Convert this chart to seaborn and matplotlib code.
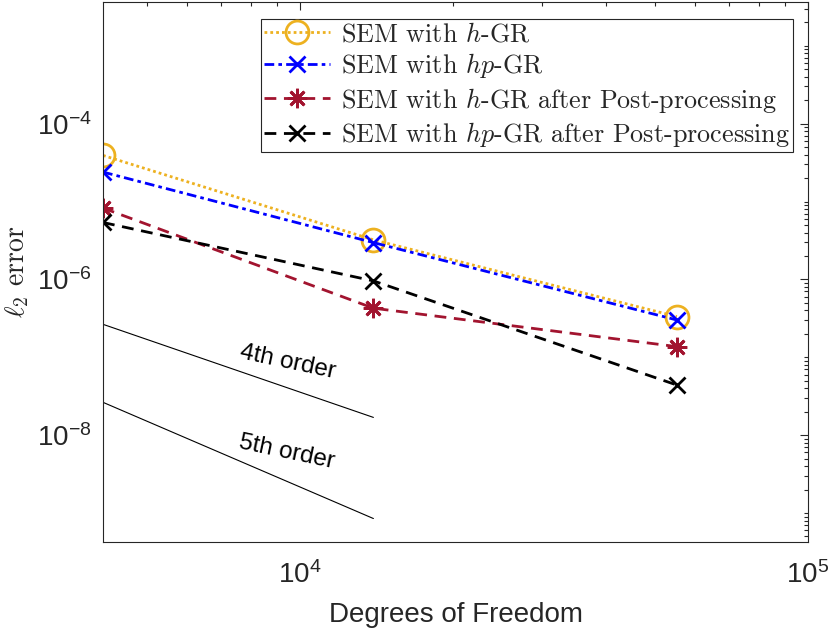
import numpy as np
import pandas as pd
import matplotlib
matplotlib.use("Agg")
import matplotlib.pyplot as plt
import matplotlib.ticker as mticker
import seaborn as sns

# ---------------- data ----------------
dof = [4096, 13950, 55200]
err_h = [3.91e-5, 3.22e-6, 3.33e-7]
err_hp = [2.39e-5, 2.97e-6, 3.01e-7]
err_h_pp = [8.24e-6, 4.27e-7, 1.37e-7]
err_hp_pp = [5.38e-6, 9.57e-7, 4.40e-8]

ref_x = [4096, 13950]
ref_4th = [2.65e-7, 1.69e-8]
ref_5th = [2.64e-8, 8.5e-10]

labels = ["SEM with $h$-GR", "SEM with $hp$-GR",
          "SEM with $h$-GR after Post-processing",
          "SEM with $hp$-GR after Post-processing"]
xticks_major = [1e4, 1e5]
yticks_major = [1e-8, 1e-6, 1e-4]

# ---------------- style ----------------
sns.set_style("white")
plt.rcParams["font.family"] = ["Liberation Sans", "DejaVu Sans"]
plt.rcParams["mathtext.fontset"] = "cm"
plt.rcParams["lines.scale_dashes"] = False
axcol = "#262626"

fig = plt.figure(figsize=(8.3, 6.33), dpi=100)
ax = fig.add_axes([0.1241, 0.1438, 0.8494, 0.8538])
ax.set_xscale("log")
ax.set_yscale("log")

series = [
    (err_h, "#EDB120", (0, (2.0, 2.2)), "o", 16.5, "none"),
    (err_hp, "#0000FF", (0, (7.0, 3.0, 2.6, 3.0)), "x", 11, None),
    (err_h_pp, "#A2142F", (0, (8.5, 5.5)), (8, 2, 0), 14, None),
    (err_hp_pp, "#000000", (0, (8.5, 5.5)), "x", 12, None),
]
handles = []
for (vals, col, ls, mk, ms, mfc), lab in zip(series, labels):
    df = pd.DataFrame({"dof": dof, "err": vals})
    sns.lineplot(data=df, x="dof", y="err", ax=ax, color=col, linestyle=ls,
                 linewidth=2.0, marker=mk, markersize=ms,
                 markeredgecolor=col, markeredgewidth=2.0,
                 markerfacecolor=(mfc if mfc else col), errorbar=None,
                 sort=False)
    handles.append(ax.lines[-1])

for refv in (ref_4th, ref_5th):
    dref = pd.DataFrame({"dof": ref_x, "err": refv})
    sns.lineplot(data=dref, x="dof", y="err", ax=ax, color="black",
                 linewidth=0.8, errorbar=None, sort=False)

ax.text(0.2624, 0.333, "4th order", transform=ax.transAxes, fontsize=17.5,
        rotation=-12, ha="center", va="center", color="black")
ax.text(0.261, 0.1665, "5th order", transform=ax.transAxes, fontsize=17.5,
        rotation=-12, ha="center", va="center", color="black")

ax.set_xlim(4096, 1e5)
ax.set_ylim(4.25e-10, 3.7e-3)

ax.xaxis.set_major_locator(mticker.FixedLocator(xticks_major))
ax.xaxis.set_minor_locator(mticker.LogLocator(base=10, subs=np.arange(2, 10), numticks=50))
ax.yaxis.set_major_locator(mticker.FixedLocator(yticks_major))
ax.yaxis.set_minor_locator(mticker.LogLocator(base=10, subs=np.arange(1, 10), numticks=50))
ax.xaxis.set_minor_formatter(mticker.NullFormatter())
ax.yaxis.set_minor_formatter(mticker.NullFormatter())

def fmt(v, pos):
    e = int(round(np.log10(v)))
    return r"$\mathregular{10^{%d}}$" % e

ax.xaxis.set_major_formatter(mticker.FuncFormatter(fmt))
ax.yaxis.set_major_formatter(mticker.FuncFormatter(fmt))

ax.tick_params(which="both", direction="in", top=True, right=True,
               colors=axcol, labelsize=20, width=0.8)
ax.tick_params(which="major", length=6)
ax.tick_params(which="minor", length=3)
ax.tick_params(axis="x", which="major", pad=14)
ax.tick_params(axis="y", which="major", pad=8)
for s in ax.spines.values():
    s.set_color(axcol)
    s.set_linewidth(0.8)
    s.set_visible(True)

ax.set_xlabel("Degrees of Freedom", fontsize=20, color=axcol, labelpad=9)
ax.set_ylabel(r"$\ell_2$ error", fontsize=20, color=axcol, labelpad=4,
              family="cmr10")

leg = ax.legend(handles, labels, loc="upper right",
                bbox_to_anchor=(0.9787, 0.9676), borderaxespad=0,
                prop={"family": "cmr10", "size": 18.8}, frameon=True,
                fancybox=False, framealpha=1, edgecolor=axcol,
                handlelength=2.55, handletextpad=0.4, labelspacing=0.2,
                borderpad=0.12, numpoints=1)
leg.get_frame().set_linewidth(0.8)

fig.savefig("out.png", dpi=100)
